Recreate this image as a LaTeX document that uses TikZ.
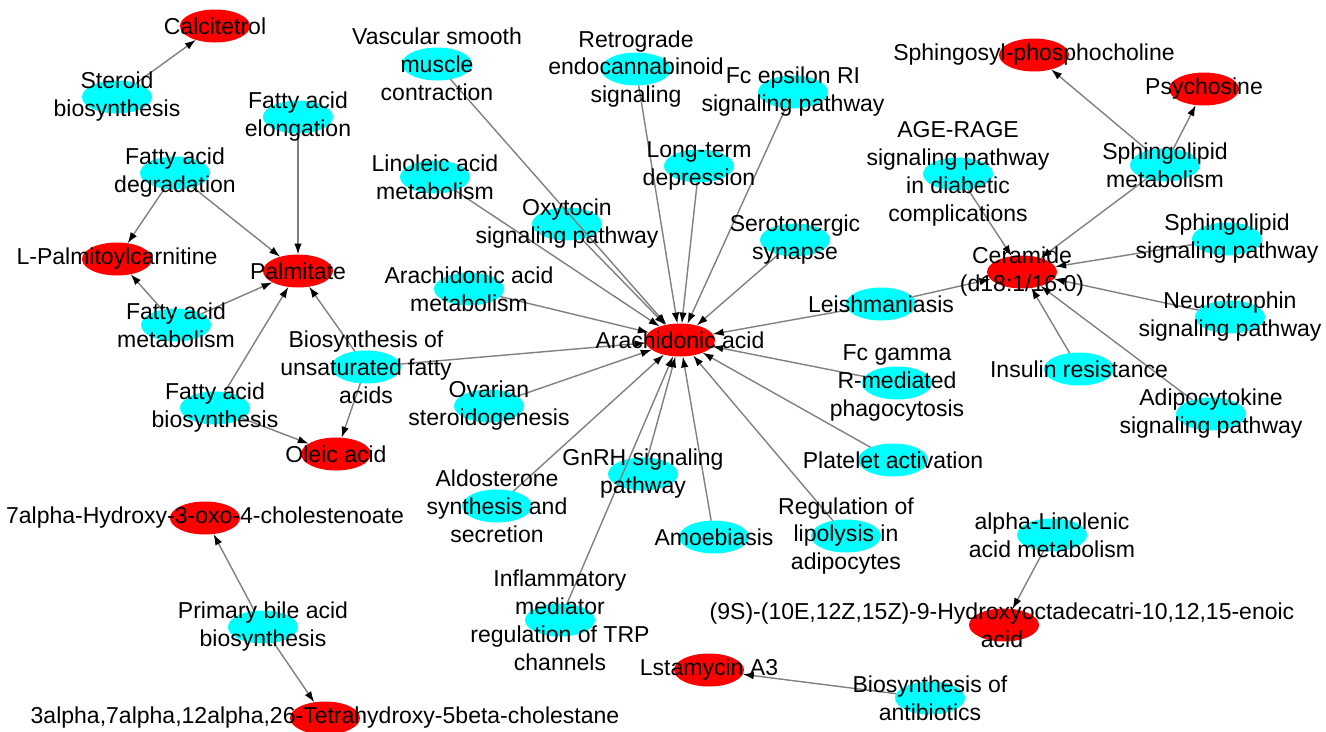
\documentclass[tikz,border=0pt]{standalone}
\usepackage{fontspec}
\setmainfont{Liberation Sans}
\usetikzlibrary{arrows.meta,shapes.geometric}
\definecolor{edgegray}{RGB}{128,128,128}
\definecolor{pwcyan}{RGB}{0,255,255}
\definecolor{cmpred}{RGB}{255,0,0}
\tikzset{
  cmp/.style={ellipse, fill=cmpred, minimum width=1.4cm, minimum height=0.66cm, inner sep=0pt, outer sep=0pt},
  pw/.style={ellipse, fill=pwcyan, minimum width=1.4cm, minimum height=0.66cm, inner sep=0pt, outer sep=0pt},
  lbl/.style={align=center, inner sep=0pt, text=black, font=\fontsize{13.1}{15.9}\selectfont},
  rel/.style={draw=edgegray, line width=0.8pt, -{Latex[length=0.22cm,width=0.15cm,color=black]}}
}
\begin{document}
\begin{tikzpicture}[x=0.02cm, y=-0.02cm]
\useasboundingbox (0,0) rectangle (1326,731);
% compounds
\node[cmp] (calc) at (215,26) {};
\node[cmp] (palm) at (298,271) {};
\node[cmp] (lpc) at (117,259) {};
\node[cmp] (olei) at (336,454) {};
\node[cmp] (ara) at (680,340) {};
\node[cmp] (cer) at (1022,272) {};
\node[cmp] (sph) at (1034,55) {};
\node[cmp] (psy) at (1204,89) {};
\node[cmp] (oxo) at (205,518) {};
\node[cmp] (tetra) at (325,718) {};
\node[cmp] (hod) at (1004,625) {};
\node[cmp] (lsta) at (709,670) {};
% pathways
\node[pw] (ster) at (117,97) {};
\node[pw] (vsm) at (437,64) {};
\node[pw] (retro) at (636,69) {};
\node[pw] (fceps) at (793,92) {};
\node[pw] (elong) at (298,117) {};
\node[pw] (degr) at (175,173) {};
\node[pw] (lino) at (435,177) {};
\node[pw] (ltd) at (699,166) {};
\node[pw] (age) at (958,174) {};
\node[pw] (sphm) at (1165,165) {};
\node[pw] (oxy) at (567,224) {};
\node[pw] (sero) at (795,240) {};
\node[pw] (sphs) at (1227,239) {};
\node[pw] (aam) at (469,289) {};
\node[pw] (leish) at (881,304) {};
\node[pw] (neuro) at (1230,317) {};
\node[pw] (fam) at (176,325) {};
\node[pw] (unsat) at (366,367) {};
\node[pw] (fcg) at (897,383) {};
\node[pw] (ins) at (1079,369) {};
\node[pw] (adipo) at (1211,414) {};
\node[pw] (ovar) at (489,406) {};
\node[pw] (fab) at (215,408) {};
\node[pw] (plat) at (893,460) {};
\node[pw] (gnrh) at (643,474) {};
\node[pw] (aldo) at (497,506) {};
\node[pw] (lipo) at (846,536) {};
\node[pw] (amoe) at (714,537) {};
\node[pw] (alin) at (1052,535) {};
\node[pw] (infl) at (560,620) {};
\node[pw] (pba) at (263,627) {};
\node[pw] (abx) at (930,698) {};
% edges
\foreach \s/\t in {ster/calc, elong/palm, degr/palm, degr/lpc, fam/palm, fam/lpc,
  fab/palm, fab/olei, unsat/palm, unsat/olei, unsat/ara,
  vsm/ara, retro/ara, fceps/ara, lino/ara, ltd/ara, oxy/ara, sero/ara, aam/ara,
  leish/ara, ovar/ara, fcg/ara, plat/ara, gnrh/ara, aldo/ara, lipo/ara, amoe/ara, infl/ara,
  age/cer, sphm/cer, sphs/cer, neuro/cer, ins/cer, adipo/cer, leish/cer,
  sphm/sph, sphm/psy, alin/hod, abx/lsta, pba/oxo, pba/tetra}
  \draw[rel] (\s) -- (\t);
% labels
\node[lbl] at (calc) {Calcitetrol};
\node[lbl] at (palm) {Palmitate};
\node[lbl] at (lpc) {L-Palmitoylcarnitine};
\node[lbl] at (olei) {Oleic acid};
\node[lbl] at (ara) {Arachidonic acid};
\node[lbl] at (cer) {Ceramide\\(d18:1/16:0)};
\node[lbl] at (sph) {Sphingosyl-phosphocholine};
\node[lbl] at (psy) {Psychosine};
\node[lbl] at (oxo) {7alpha-Hydroxy-3-oxo-4-cholestenoate};
\node[lbl] at (tetra) {3alpha,7alpha,12alpha,26-Tetrahydroxy-5beta-cholestane};
\node[lbl] at (1002,625) {(9S)-(10E,12Z,15Z)-9-Hydroxyoctadecatri-10,12,15-enoic\\acid};
\node[lbl] at (lsta) {Lstamycin A3};
\node[lbl] at (ster) {Steroid\\biosynthesis};
\node[lbl] at (vsm) {Vascular smooth\\muscle\\contraction};
\node[lbl] at (retro) {Retrograde\\endocannabinoid\\signaling};
\node[lbl] at (fceps) {Fc epsilon RI\\signaling pathway};
\node[lbl] at (elong) {Fatty acid\\elongation};
\node[lbl] at (degr) {Fatty acid\\degradation};
\node[lbl] at (lino) {Linoleic acid\\metabolism};
\node[lbl] at (ltd) {Long-term\\depression};
\node[lbl] at (age) {AGE-RAGE\\signaling pathway\\in diabetic\\complications};
\node[lbl] at (sphm) {Sphingolipid\\metabolism};
\node[lbl] at (oxy) {Oxytocin\\signaling pathway};
\node[lbl] at (sero) {Serotonergic\\synapse};
\node[lbl] at (sphs) {Sphingolipid\\signaling pathway};
\node[lbl] at (aam) {Arachidonic acid\\metabolism};
\node[lbl] at (leish) {Leishmaniasis};
\node[lbl] at (neuro) {Neurotrophin\\signaling pathway};
\node[lbl] at (fam) {Fatty acid\\metabolism};
\node[lbl] at (unsat) {Biosynthesis of\\unsaturated fatty\\acids};
\node[lbl] at (fcg) {Fc gamma\\R-mediated\\phagocytosis};
\node[lbl] at (ins) {Insulin resistance};
\node[lbl] at (adipo) {Adipocytokine\\signaling pathway};
\node[lbl] at (ovar) {Ovarian\\steroidogenesis};
\node[lbl] at (fab) {Fatty acid\\biosynthesis};
\node[lbl] at (plat) {Platelet activation};
\node[lbl] at (gnrh) {GnRH signaling\\pathway};
\node[lbl] at (aldo) {Aldosterone\\synthesis and\\secretion};
\node[lbl] at (lipo) {Regulation of\\lipolysis in\\adipocytes};
\node[lbl] at (amoe) {Amoebiasis};
\node[lbl] at (alin) {alpha-Linolenic\\acid metabolism};
\node[lbl] at (infl) {Inflammatory\\mediator\\regulation of TRP\\channels};
\node[lbl] at (pba) {Primary bile acid\\biosynthesis};
\node[lbl] at (abx) {Biosynthesis of\\antibiotics};
\end{tikzpicture}
\end{document}
